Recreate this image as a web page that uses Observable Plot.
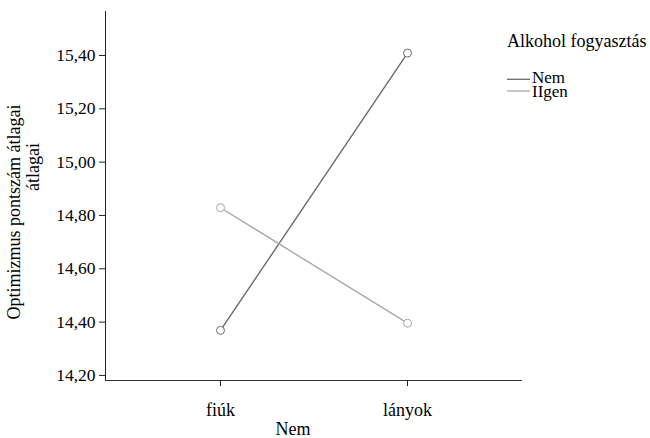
<!DOCTYPE html>
<html><head><meta charset="utf-8">
<script src="https://cdn.jsdelivr.net/npm/d3@7"></script>
<script src="https://cdn.jsdelivr.net/npm/@observablehq/plot@0.6"></script>
<style>
body{margin:0;background:#fff}
#chart{position:relative;width:650px;height:438px}
</style>
</head><body><div id="chart"></div>
<script>
const categories = ["fiúk", "lányok"];
const series = ["Nem", "IIgen"];
const nemValues = [14.369, 15.409];
const igenValues = [14.829, 14.396];
const yTicks = [14.2, 14.4, 14.6, 14.8, 15.0, 15.2, 15.4];
const colors = ["#6b6b6b", "#a8a8a8"];
const legendTitle = "Alkohol fogyasztás";
const xLabel = "Nem";
const yLabel1 = "Optimizmus pontszám átlagai";
const yLabel2 = "átlagai";

const FONT = '"Liberation Serif","Times New Roman",serif';
const data = [
  ...categories.map((c, i) => ({nem: c, alk: series[0], v: nemValues[i]})),
  ...categories.map((c, i) => ({nem: c, alk: series[1], v: igenValues[i]}))
];
const fmt = d => d.toFixed(2).replace(".", ",");

const chart = Plot.plot({
  width: 650, height: 438,
  marginTop: 11, marginBottom: 58, marginLeft: 105, marginRight: 129,
  style: {fontFamily: FONT, fontSize: "18px", color: "#000", background: "#fff"},
  x: {type: "point", domain: categories, padding: 0.61},
  y: {domain: [14.181, 15.565]},
  color: {domain: series, range: colors},
  marks: [
    Plot.axisY({ticks: yTicks, tickFormat: fmt, tickSize: 6, tickPadding: 4, label: null, fontSize: 17.5, stroke: "#222"}),
    Plot.axisX({tickSize: 6, tickPadding: 17, label: null, fontSize: 18, stroke: "#222"}),
    Plot.frame({anchor: "left", stroke: "#222"}),
    Plot.frame({anchor: "bottom", stroke: "#333"}),
    Plot.line(data, {x: "nem", y: "v", stroke: "alk", z: "alk", strokeWidth: 1.4}),
    Plot.dot(data, {x: "nem", y: "v", stroke: "alk", r: 4, fill: "white", strokeWidth: 1})
  ]
});
document.getElementById("chart").appendChild(chart);

const svg = d3.select(chart);
const g = svg.append("g").attr("font-family", FONT).attr("font-size", 18).attr("fill", "#000").attr("text-anchor", "start");
// axis titles
g.append("text").attr("x", 293).attr("y", 435).attr("text-anchor", "middle").text(xLabel);
g.append("text").attr("transform", "translate(20,212) rotate(-90)").attr("text-anchor", "middle").text(yLabel1);
g.append("text").attr("transform", "translate(39,167) rotate(-90)").attr("text-anchor", "middle").text(yLabel2);
// legend
g.append("text").attr("x", 507).attr("y", 47).text(legendTitle);
const ly = [79.3, 91];
const lb = [83, 96.5];
series.forEach((s, i) => {
  g.append("line").attr("x1", 507).attr("x2", 530).attr("y1", ly[i]).attr("y2", ly[i])
    .attr("stroke", colors[i]).attr("stroke-width", 1.3);
  g.append("text").attr("x", 532).attr("y", lb[i]).attr("font-size", 17).text(s);
});
</script>
</body></html>
